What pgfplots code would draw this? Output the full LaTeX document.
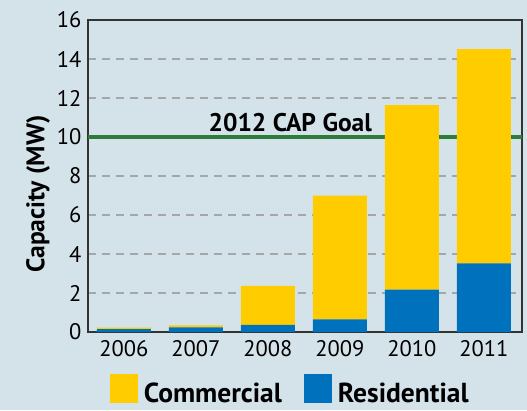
\documentclass[border=0pt]{standalone}
\usepackage{pgfplots}
\pgfplotsset{compat=1.18}
\usepackage{fontspec}
\setmainfont{PT Sans}
\definecolor{bg}{HTML}{D4E3EA}
\definecolor{cyel}{HTML}{FFCC00}
\definecolor{cblue}{HTML}{0071BC}
\definecolor{cgreen}{HTML}{2E7B3A}
\pgfplotstableread{
x res com
0 0.15 0.08
1 0.24 0.10
2 0.36 2.01
3 0.65 6.35
4 2.17 9.46
5 3.52 10.98
}\captable
\begin{document}
\begin{tikzpicture}[x=1pt,y=1pt]
\fill[bg] (0,0) rectangle (527,410);
\useasboundingbox (0,0) rectangle (527,410);
\begin{axis}[
  at={(88pt,78pt)}, anchor=south west,
  width=434pt, height=312pt, scale only axis,
  ybar stacked, bar width=54pt,
  xmin=-0.5, xmax=5.53, ymin=0, ymax=16,
  xtick={0,...,5}, xticklabels={2006,2007,2008,2009,2010,2011},
  ytick={0,2,...,16},
  major tick length=0pt,
  ymajorgrids,
  grid style={dash pattern=on 8pt off 6pt, gray!70, line width=1.2pt},
  axis line style={draw=none},
  tick label style={font=\fontsize{22.5}{24}\selectfont},
  /pgf/number format/assume math mode=true,
  yticklabel style={xshift=-3pt},
  xticklabel style={yshift=-5pt},
  clip=false,
  legend style={at={(0.466,-0.186)}, anchor=center, draw=none, fill=none,
    legend columns=2, font=\bfseries\fontsize{27.5}{28}\selectfont,
    /tikz/every odd column/.append style={column sep=4pt},
    /tikz/every even column/.append style={column sep=20pt}},
  legend image code/.code={\fill[#1] (0pt,-9pt) rectangle (28pt,20pt);},
]
\addplot[fill=cblue, draw=none, forget plot] table[x=x, y=res] {\captable};
\addplot[fill=cyel, draw=none, forget plot] table[x=x, y=com] {\captable};
\addlegendimage{fill=cyel, draw=none}
\addlegendentry{Commercial}
\addlegendimage{fill=cblue, draw=none}
\addlegendentry{Residential}
\draw[cgreen, line width=4pt] (axis cs:-0.5,10) -- (axis cs:5.53,10);
\node[anchor=base, font=\bfseries\fontsize{25.5}{26}\selectfont] at (axis cs:2.31,10.28) {2012 CAP Goal};
\draw[black!80, line width=1.5pt] (rel axis cs:0,0) rectangle (rel axis cs:1,1);
\end{axis}
\node[rotate=90, font=\bfseries\fontsize{25.5}{26}\selectfont] at (38,216) {Capacity (MW)};
\end{tikzpicture}
\end{document}
